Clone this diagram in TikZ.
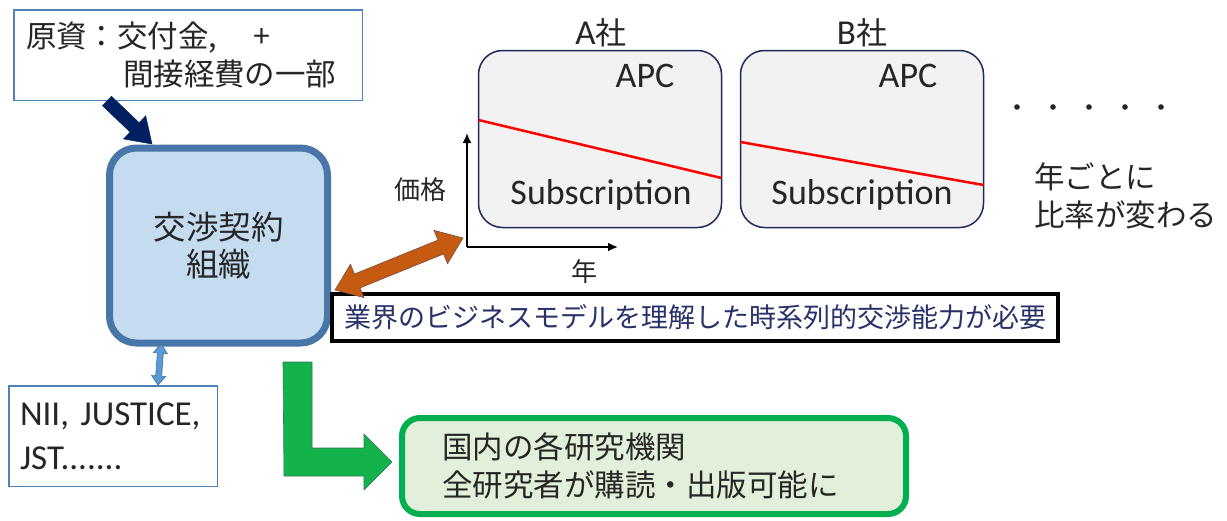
\documentclass[tikz,border=0pt]{standalone}
\usepackage{fontspec}
\setmainfont{Noto Sans CJK JP}
\newfontfamily\lat{Carlito}
\usetikzlibrary{arrows.meta}
\definecolor{txt}{RGB}{38,38,38}
\definecolor{boxblue}{RGB}{79,129,189}
\definecolor{orgblue}{RGB}{72,118,168}
\definecolor{orglight}{RGB}{197,220,240}
\definecolor{navyline}{RGB}{31,40,90}
\definecolor{compgray}{RGB}{242,242,242}
\definecolor{grn}{RGB}{0,176,80}
\definecolor{grnarrow}{RGB}{20,178,75}
\definecolor{grnlight}{RGB}{226,239,218}
\definecolor{grndark}{RGB}{50,120,90}
\definecolor{navyarrow}{RGB}{0,32,96}
\definecolor{orangearrow}{RGB}{197,90,17}
\definecolor{orangedark}{RGB}{120,80,70}
\definecolor{lblue}{RGB}{91,155,213}
\definecolor{lbluedark}{RGB}{65,113,156}
\definecolor{msgblue}{RGB}{40,50,105}
\makeatletter
\newcommand\blockarrow[6]{%
  \pgfpointanchor{#1}{center}\pgf@xa=\pgf@x\pgf@ya=\pgf@y
  \pgfpointanchor{#2}{center}\pgf@xb=\pgf@x\pgf@yb=\pgf@y
  \pgfmathsetmacro\baang{atan2(\pgf@yb-\pgf@ya,\pgf@xb-\pgf@xa)}%
  \pgfmathsetmacro\balen{veclen(\pgf@xb-\pgf@xa,\pgf@yb-\pgf@ya)}%
  \filldraw[#6,shift={(#1)},rotate=\baang] (0,-#3) -- ({\balen-#5},-#3) -- ({\balen-#5},-#4) -- (\balen,0) -- ({\balen-#5},#4) -- ({\balen-#5},#3) -- (0,#3) -- cycle;
}
\newcommand\dblockarrow[6]{%
  \pgfpointanchor{#1}{center}\pgf@xa=\pgf@x\pgf@ya=\pgf@y
  \pgfpointanchor{#2}{center}\pgf@xb=\pgf@x\pgf@yb=\pgf@y
  \pgfmathsetmacro\baang{atan2(\pgf@yb-\pgf@ya,\pgf@xb-\pgf@xa)}%
  \pgfmathsetmacro\balen{veclen(\pgf@xb-\pgf@xa,\pgf@yb-\pgf@ya)}%
  \filldraw[#6,shift={(#1)},rotate=\baang] (0,0) -- (#5,-#4) -- (#5,-#3) -- ({\balen-#5},-#3) -- ({\balen-#5},-#4) -- (\balen,0) -- ({\balen-#5},#4) -- ({\balen-#5},#3) -- (#5,#3) -- (#5,#4) -- cycle;
}
\makeatother
\begin{document}
\begin{tikzpicture}[x=1pt,y=-1pt,
  every node/.style={inner sep=0pt,outer sep=0pt,text=txt},
  jp/.style={font=\fontsize{30.5}{38}\selectfont},
  thinbox/.style={draw=boxblue,line width=1.5pt,fill=white,rectangle},
  orgbox/.style={draw=orgblue,line width=7pt,fill=orglight,rounded corners=27pt,rectangle},
  compbox/.style={draw=navyline,line width=1.5pt,fill=compgray,rounded corners=24pt,rectangle},
  greenbox/.style={draw=grn,line width=6pt,fill=grnlight,rounded corners=18pt,rectangle},
  blackbox/.style={draw=black,line width=4pt,fill=white,rectangle},
  redline/.style={draw=red,line width=2.5pt},
  axis/.style={draw=black,line width=1.8pt,-{Latex[length=10pt,width=9pt]}},
  latfont/.style={font=\lat\fontsize{36}{40}\selectfont}
]
\useasboundingbox (0,0) rectangle (1227,520);
\fill[white] (0,0) rectangle (1227,520);

% funding source box
\node[thinbox,minimum width=348.5pt,minimum height=90.5pt,jp,align=left,text width=324pt] (src) at (188,55)
  {原資：交付金,\hspace{36pt}+\\\hspace*{97pt}間接経費の一部};

% negotiating organization
\node[orgbox,minimum width=218pt,minimum height=195pt,align=center,font=\fontsize{32.5}{37}\selectfont] (org) at (218.5,245.5)
  {交渉契約\\組織};

% NII box
\node[thinbox,minimum width=208.5pt,minimum height=100.5pt,align=left,text width=186pt,font=\lat\fontsize{35}{44}\selectfont] (nii) at (113,436)
  {NII, JUSTICE,\\JST.......};

% green result box
\node[greenbox,minimum width=504pt,minimum height=96pt,align=left,text width=424pt,jp] (res) at (654,466)
  {国内の各研究機関\\全研究者が購読・出版可能に};

% black message box
\node[blackbox,minimum width=726pt,minimum height=47pt,align=left,text width=702pt,font=\fontsize{27}{30}\selectfont,text=msgblue] (msg) at (695,317.5)
  {業界のビジネスモデルを理解した時系列的交渉能力が必要};

% company boxes
\node[compbox,minimum width=243pt,minimum height=177pt] (ca) at (600,139) {};
\node[compbox,minimum width=243pt,minimum height=177pt] (cb) at (862,139) {};
\node[font=\fontsize{31}{36}\selectfont] (lba) at (601,33) {{\lat\fontsize{35}{36}\selectfont A}社};
\node[font=\fontsize{31}{36}\selectfont] (lbb) at (862,33) {{\lat\fontsize{35}{36}\selectfont B}社};
\coordinate (ra1) at (ca.west |- 0,120);
\coordinate (ra2) at (ca.east |- 0,178);
\coordinate (rb1) at (cb.west |- 0,142);
\coordinate (rb2) at (cb.east |- 0,185);
\draw[redline] (ra1) -- (ra2);
\draw[redline] (rb1) -- (rb2);
\node[latfont] (apca) at (645,76) {APC};
\node[latfont] (apcb) at (908,76) {APC};
\node[latfont] (suba) at (601,195) {Subscription};
\node[latfont] (subb) at (862,195) {Subscription};

% axes
\coordinate (o) at (467,247);
\coordinate (yend) at (467,133);
\coordinate (xend) at (618,247);
\draw[axis] (o) -- (yend);
\draw[axis] (o) -- (xend);
\node[font=\fontsize{26}{28}\selectfont] (price) at (420,190) {価格};
\node[font=\fontsize{26}{28}\selectfont] (year) at (584,272) {年};

% dots and note
\foreach \i in {0,...,4} \fill[txt] (1017+36*\i,107) circle (2.8pt);
\node[jp,align=left,anchor=west] (note) at (1034,196) {年ごとに\\比率が変わる};

% arrows
\coordinate (nvS) at (107,101);
\coordinate (nvE) at (152,144);
\blockarrow{nvS}{nvE}{6.5}{16}{24}{fill=navyarrow,draw=navyarrow,line width=0.5pt}

\coordinate (orS) at (335,290);
\coordinate (orE) at (463,238);
\dblockarrow{orS}{orE}{7.5}{18}{24}{fill=orangearrow,draw=orangedark,line width=0.6pt}

\coordinate (lbS) at (161,344);
\coordinate (lbE) at (158,385);
\dblockarrow{lbS}{lbE}{3}{7}{9}{fill=lblue,draw=lbluedark,line width=0.6pt}

% green L arrow
\coordinate (gS) at (283,362);
\coordinate (gE) at (392,462);
\filldraw[fill=grnarrow,draw=grndark,line width=0.6pt]
  (gS) -- ++(29,0) -- ++(0,86) -- ++(52,0) -- ++(0,-14) -- (gE) -- ++(-28,28) -- ++(0,-14) -- ++(-80,0) -- cycle;
\end{tikzpicture}
\end{document}
